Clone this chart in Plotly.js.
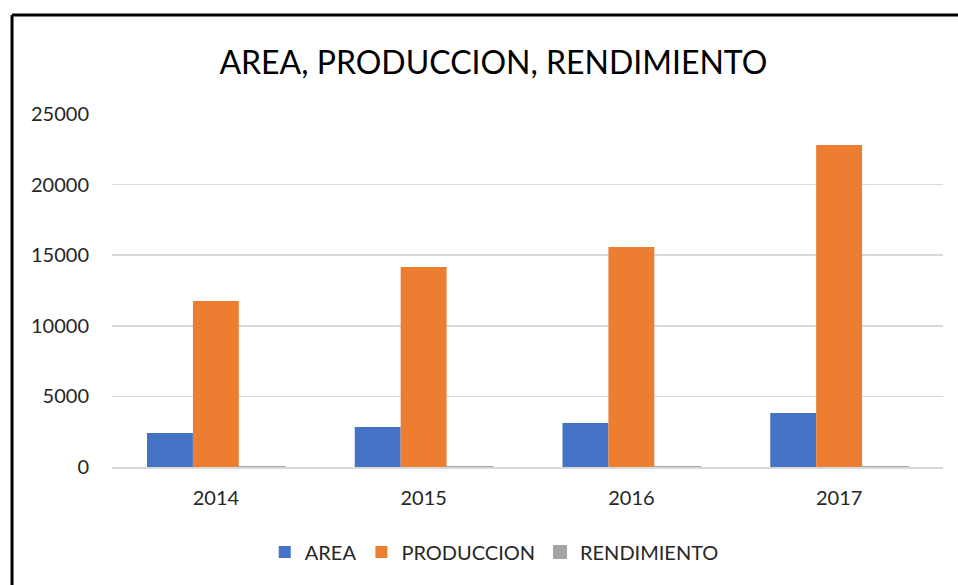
<!DOCTYPE html>
<html>
<head>
<meta charset="utf-8">
<script src="https://cdn.plot.ly/plotly-3.0.1.min.js"></script>
<style>
html,body{margin:0;padding:0;background:#fff;}
#chart{width:958px;height:585px;}
</style>
</head>
<body>
<div id="chart"></div>
<script>
var years = ["2014", "2015", "2016", "2017"];
var area = [2410, 2830, 3115, 3825];
var produccion = [11760, 14165, 15580, 22800];
var rendimiento = [4.9, 5.0, 5.0, 6.0];
var seriesNames = ["AREA", "PRODUCCION", "RENDIMIENTO"];
var seriesColors = ["#4472c4", "#ed7d31", "#a5a5a5"];

var FONT = "Lato, 'Open Sans', sans-serif";

var traces = [
  {type: "bar", name: seriesNames[0], x: years, y: area,
   marker: {color: seriesColors[0]}, hoverinfo: "x+y+name"},
  {type: "bar", name: seriesNames[1], x: years, y: produccion,
   marker: {color: seriesColors[1]}, hoverinfo: "x+y+name"},
  {type: "bar", name: seriesNames[2], x: years, y: rendimiento,
   marker: {color: seriesColors[2], line: {color: seriesColors[2], width: 2}}, hoverinfo: "x+y+name"}
];

var layout = {
  width: 958, height: 585,
  paper_bgcolor: "#ffffff", plot_bgcolor: "#ffffff",
  margin: {l: 112, r: 15, t: 114, b: 118, pad: 0},
  title: {text: "AREA, PRODUCCION, RENDIMIENTO", x: 0.515, xanchor: "center", y: 0.893, yanchor: "middle",
          font: {family: FONT, size: 32, color: "#000000"}},
  barmode: "group", bargap: 0.337, bargroupgap: 0,
  xaxis: {type: "category", showgrid: false, showline: true, linecolor: "#d9d9d9", linewidth: 1.5,
          ticks: "", tickfont: {family: FONT, size: 20, color: "#262626"}, ticklabelstandoff: 12},
  yaxis: {range: [0, 25000], dtick: 5000, tick0: 0, showgrid: true, gridcolor: "#d9d9d9", gridwidth: 1.5,
          zeroline: false, showline: false, ticks: "", tickformat: "d",
          tickfont: {family: FONT, size: 20, color: "#262626"}, ticklabelstandoff: 22},
  legend: {orientation: "h", x: 0.46, xanchor: "center", y: -0.241, yanchor: "middle",
           font: {family: FONT, size: 20, color: "#262626"}, itemwidth: 30, traceorder: "normal"},
  showlegend: true,
  shapes: [
    {type: "line", xref: "paper", yref: "paper", x0: -0.1203, x1: -0.1203, y0: 1.2805, y1: -0.4,
     line: {color: "#000000", width: 3}},
    {type: "line", xref: "paper", yref: "paper", x0: -0.1203, x1: 1.05, y0: 1.2805, y1: 1.2805,
     line: {color: "#000000", width: 3}}
  ]
};

Plotly.newPlot("chart", traces, layout, {displayModeBar: false, staticPlot: true});
</script>
</body>
</html>
